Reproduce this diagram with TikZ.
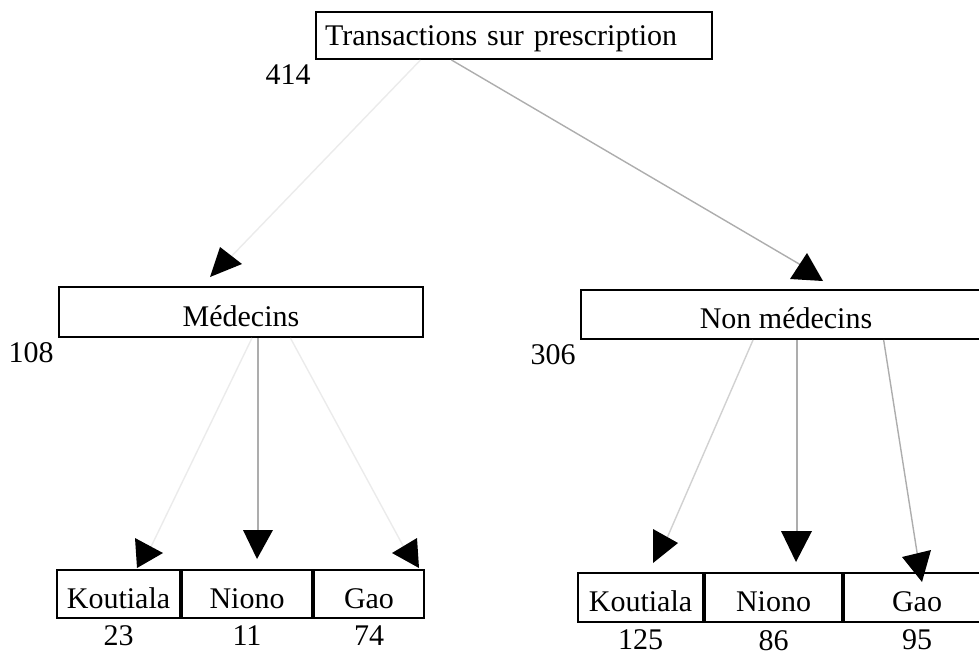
\documentclass[tikz,border=0pt]{standalone}
\usepackage{fontspec}
\setmainfont{Liberation Serif}
\usetikzlibrary{calc}
\def\arrowhead(#1)(#2)(#3){\fill[black] (#1) -- (#2) -- (#3) -- cycle;}

\begin{document}
\begin{tikzpicture}[x=0.5pt, y=-0.5pt,
	box/.style={draw, line width=1pt, inner sep=0pt, text height=14pt, text depth=0pt, font=\fontsize{15}{18}\selectfont},
	count/.style={font=\fontsize{15}{18}\selectfont},
	faint/.style={line width=0.7pt, color=black!8},
	link/.style={line width=0.7pt, color=black!32}]
			%%%%% START %%%%%
			\useasboundingbox (0,0) rectangle (979,654);
			\clip (0,0) rectangle (979,654);
			
			\node[box, anchor=west, minimum height=23.5pt, text height=9.5pt, inner xsep=4.5pt, text width=189pt, align=left] (trans) at (315,35.5) {Transactions sur prescription};
			\node[count, anchor=north east, inner sep=2pt] (n414) at (trans.south west) {414};
			
			\node[box, minimum width=182pt, minimum height=25pt] (med) at (241,312) {Médecins};
			\node[count, anchor=north east, inner sep=2pt] (n108) at (med.south west) {108};
			
			\node[box, minimum width=205pt, minimum height=24.5pt] (nonmed) at (786,314.5) {Non médecins};
			\node[count, anchor=north east, inner sep=2pt] (n306) at (nonmed.south west) {306};
			
			\node[box, minimum width=61.5pt, minimum height=24pt] (kout1) at (118.5,594) {Koutiala};
			\node[box, minimum width=65pt, minimum height=24pt, anchor=west] (nion1) at (kout1.east) {Niono};
			\node[box, minimum width=55pt, minimum height=24pt, anchor=west] (gao1) at (nion1.east) {Gao};
			\node[count, below] (n23) at (kout1.south) {23};
			\node[count, below] (n11) at (nion1.south) {11};
			\node[count, below] (n74) at (gao1.south) {74};
			
			\node[box, minimum width=62.5pt, minimum height=24.5pt] (kout2) at (640.5,597.5) {Koutiala};
			\node[box, minimum width=68.5pt, minimum height=24.5pt, anchor=west] (nion2) at (kout2.east) {Niono};
			\node[box, minimum width=73pt, minimum height=24.5pt, anchor=west] (gao2) at (nion2.east) {Gao};
			\node[count, below] (n125) at (kout2.south) {125};
			\node[count, below] (n86) at (nion2.south) {86};
			\node[count, below] (n95) at (gao2.south) {95};
			
			\coordinate (tipmed) at (226,262);
			\coordinate (tipnon) at (806,268);
			\coordinate (tipk1) at (148,553);
			\coordinate (tipn1) at (258,542);
			\coordinate (tipg1) at (407,553);
			\coordinate (tipk2) at (664,545);
			\coordinate (tipn2) at (797,543);
			\coordinate (tipg2) at (919,565);
			
			\draw[faint] ($(trans.south west)!0.265!(trans.south east)$) -- (tipmed);
			\draw[link] ($(trans.south west)!0.343!(trans.south east)$) -- (tipnon);
			
			\draw[faint] ($(med.south west)!0.53!(med.south east)$) -- (tipk1);
			\draw[link] (med.south -| tipn1) -- (tipn1);
			\draw[faint] ($(med.south west)!0.635!(med.south east)$) -- (tipg1);
			
			\draw[link, color=black!18] ($(nonmed.south west)!0.42!(nonmed.south east)$) -- (tipk2);
			\draw[link] (nonmed.south -| tipn2) -- (tipn2);
			\draw[link] ($(nonmed.south west)!0.737!(nonmed.south east)$) -- (tipg2);
			
			\arrowhead(210,277)(220,247)(242,264)
			\arrowhead(790,279)(807,253)(823,281)
			
			\arrowhead(135,538)(137,568)(163,553)
			\arrowhead(243,530)(273,530)(257,559)
			\arrowhead(392,553)(417,538)(419,568)
			
			\arrowhead(653,529)(653,563)(678,543)
			\arrowhead(781,531)(812,531)(796,562)
			\arrowhead(902,557)(931,550)(922,582)
			%%%%% END %%%%%
\end{tikzpicture}
\end{document}
